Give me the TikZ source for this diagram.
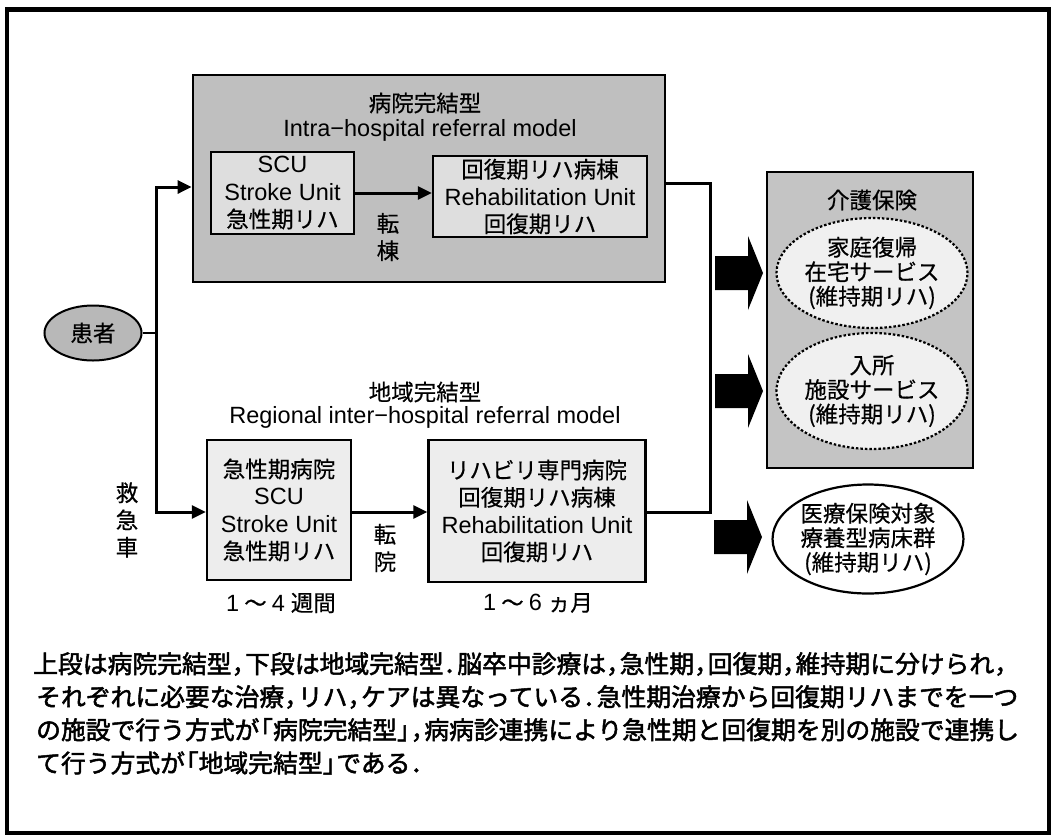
\documentclass[tikz,border=0pt]{standalone}
\usepackage{fontspec}
\usetikzlibrary{arrows.meta,shapes.geometric}
\newfontfamily\jpf{Noto Sans CJK JP}[FakeBold=0.5]
\newfontfamily\jpbf{Noto Sans CJK JP}[FakeBold=2]
\newfontfamily\laf{Liberation Sans}
\newcommand\J{\jpf\fontsize{22.5}{27.3}\selectfont}
\newcommand\Je{\jpf\fontsize{22.5}{24.5}\selectfont}
\newcommand\lt{\laf\fontsize{23.5}{27.3}\selectfont}
\newcommand\capf{\jpbf\fontsize{24.8}{30}\selectfont}
\newcommand\pcl[1]{\makebox[0.55em][l]{#1}}
\newcommand\pcr[1]{\makebox[0.55em][r]{#1}}
\begin{document}
\begin{tikzpicture}[x=1pt,y=-1pt,
  >={Triangle[length=14pt,width=13pt]},
  box/.style={draw,line width=2.4pt,rectangle,inner sep=0pt,align=center,font=\J},
  conn/.style={line width=3pt},
  lbl/.style={font=\J,align=center,inner sep=0pt},
  ell/.style={ellipse,draw,inner sep=0pt,align=center,font=\Je},
  dots/.style={line width=2.2pt,dash pattern=on 2.5pt off 2pt},
  capline/.style={anchor=west,inner sep=0pt,font=\capf}]
\path[use as bounding box,fill=white] (0,0) rectangle (1055,839);
\draw[line width=3.5pt] (7,9) rectangle (1049,833);
\draw[line width=5pt] (5,9) -- (1051,9);

% upper: intra-hospital model
\node[box,line width=2.8pt,fill=black!25,minimum width=472pt,minimum height=207pt] (upper) at (429,178.5) {};
\node[lbl] (t1) at (425,103) {病院完結型};
\node[lbl,font=\lt] (t1e) at (430,130) {Intra−hospital referral model};
\node[box,fill=black!13,minimum width=143pt,minimum height=82pt] (scu) at (282.5,193) {{\lt SCU}\\{\lt Stroke Unit}\\急性期リハ};
\node[box,fill=black!13,minimum width=214pt,minimum height=81pt] (rehab) at (540,196.5) {回復期リハ病棟\\{\lt Rehabilitation Unit}\\回復期リハ};
\node[lbl] (tt) at (388,237) {転\\棟};

% patient
\node[ell,line width=2pt,fill=black!28,minimum width=97pt,minimum height=55pt,font=\J] (pat) at (93,333) {患者};
\node[lbl] (kyu) at (127,520) {救\\急\\車};

% lower: regional model
\node[lbl] (t2) at (425,392) {地域完結型};
\node[lbl,font=\lt] (t2e) at (425,417) {Regional inter−hospital referral model};
\node[box,fill=black!7,minimum width=144pt,minimum height=140pt] (acute) at (279,510) {急性期病院\\{\lt SCU}\\{\lt Stroke Unit}\\急性期リハ};
\node[box,fill=black!7,minimum width=217pt,minimum height=142pt] (rehab2) at (537,511) {リハビリ専門病院\\回復期リハ病棟\\{\lt Rehabilitation Unit}\\回復期リハ};
\node[lbl] (ti) at (385,548) {転\\院};
\node[lbl] (d1) at (281,603) {{\lt 1}\kern5pt～\kern5pt{\lt 4}\kern6pt週間};
\node[lbl] (d2) at (538,603) {{\lt 1}\kern5pt～\kern5pt{\lt 6}\kern6pt ヵ月};

% right side
\node[box,fill=black!23,minimum width=206pt,minimum height=296pt] (kaigo) at (870,320) {};
\node[lbl] (kt) at (872,200) {介護保険};
\node[ell,dots,fill=black!6,minimum width=191pt,minimum height=110pt] (e1) at (872,273) {家庭復帰\\在宅サービス\\(維持期リハ)};
\node[ell,dots,fill=black!6,minimum width=191pt,minimum height=116pt] (e2) at (872,391) {入所\\施設サービス\\(維持期リハ)};
\node[ell,line width=2.2pt,fill=white,minimum width=185pt,minimum height=109pt] (e3) at (868,539) {医療保険対象\\療養型病床群\\(維持期リハ)};

% connectors
\coordinate (sT) at (156,187);
\coordinate (sB) at (156,512);
\coordinate (rT) at (710,183);
\coordinate (rB) at (710,512);
\draw[line width=2pt] (pat.east) -- (pat.east -| sT);
\draw[conn,<->] (sT -| upper.west) -| (sB) -- (sB -| acute.west);
\draw[conn,->] (scu.east) -- (scu.east -| rehab.west);
\draw[conn,->] (acute.east |- sB) -- (sB -| rehab2.west);
\draw[conn] (upper.east |- rT) -| (rB) -- (rB -| rehab2.east);

% block arrows
\coordinate (b1) at (715,273);
\coordinate (b2) at (715,391);
\coordinate (b3) at (714,537);
\foreach \b in {b1,b2,b3}{
  \fill (\b) ++(0,-17) -- ++(33,0) -- ++(0,-20) -- ++(15,37) -- ++(-15,37) -- ++(0,-20) -- ++(-33,0) -- cycle;
}

% caption
\node[capline] (c1) at (33,664) {上段は病院完結型\pcl{，}下段は地域完結型\pcl{．}脳卒中診療は\pcl{，}急性期\pcl{，}回復期\pcl{，}維持期に分けられ\pcl{，}};
\node[capline] (c2) at (36,697) {それぞれに必要な治療\pcl{，}リハ\pcl{，}ケアは異なっている\pcl{．}急性期治療から回復期リハまでを一つ};
\node[capline] (c3) at (36,730) {の施設で行う方式が\pcr{「}病院完結型\pcl{」}\pcl{，}病病診連携により急性期と回復期を別の施設で連携し};
\node[capline] (c4) at (36,763) {て行う方式が\pcr{「}地域完結型\pcl{」}である\pcl{．}};
\end{tikzpicture}
\end{document}
